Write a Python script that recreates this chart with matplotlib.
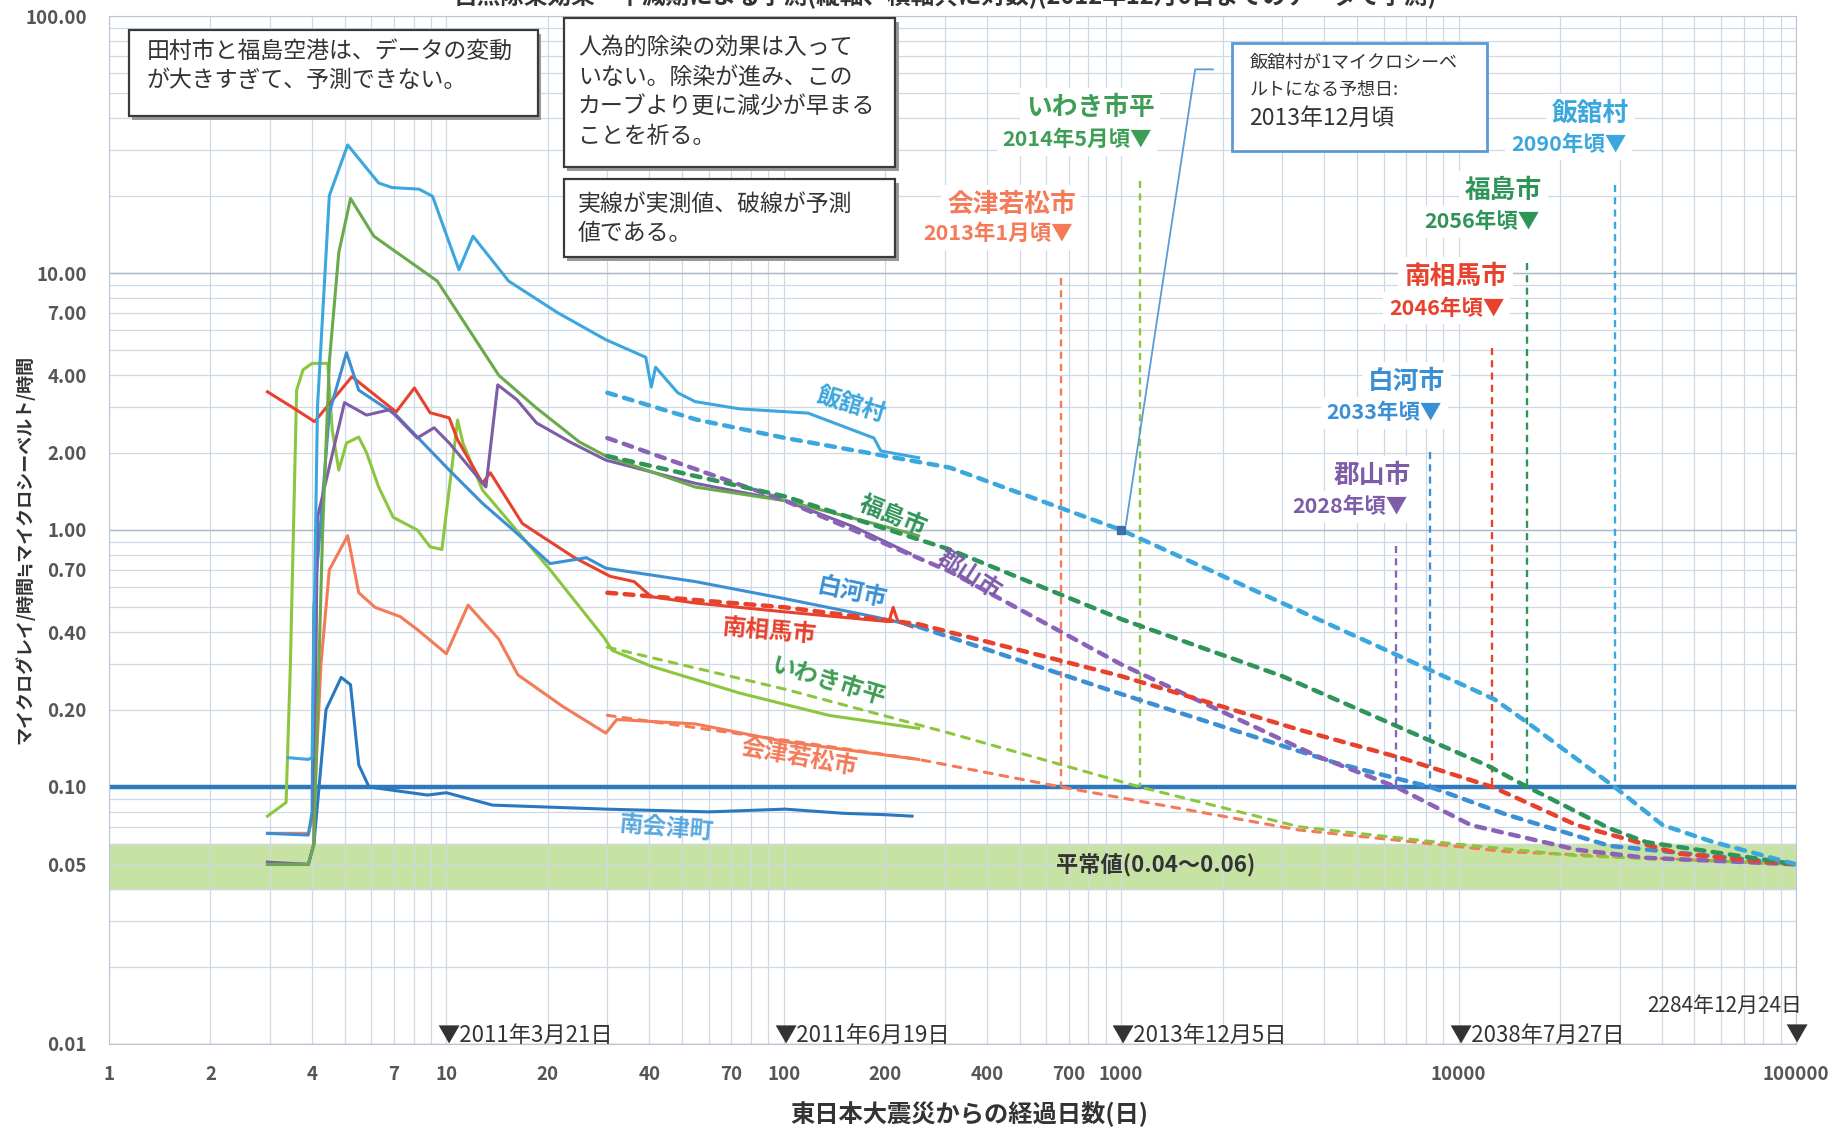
import matplotlib
matplotlib.use("Agg")
import matplotlib.pyplot as plt
from matplotlib.patches import Rectangle

plt.rcParams['font.family'] = ['Noto Sans CJK JP', 'DejaVu Sans']

# 実測値（震災からの経過日数, μSv/h）
iitate_d = [3.4, 3.9, 4.0, 4.15, 4.5, 5.1, 6.3, 6.9, 8.3, 9.1, 10.9, 12.0, 15.3, 21.4, 29.7,
            39, 40.5, 41.7, 48.5, 54.6, 74, 118, 185, 194, 251]
iitate_v = [0.13, 0.128, 0.13, 3.0, 20, 31.5, 22.4, 21.5, 21.2, 19.9, 10.3, 13.9, 9.3, 7.0, 5.5,
            4.7, 3.6, 4.3, 3.42, 3.16, 2.96, 2.85, 2.28, 2.03, 1.91]

fukushima_d = [2.95, 3.9, 4.05, 4.3, 4.5, 4.8, 5.2, 6.1, 9.4, 14.3, 18.4, 24.8, 29.7, 54.6, 101, 185, 251]
fukushima_v = [0.05, 0.05, 0.06, 1.0, 4.5, 12.0, 19.5, 13.9, 9.3, 4.0, 3.0, 2.2, 1.94, 1.47, 1.30, 1.06, 0.95]

koriyama_d = [2.95, 3.9, 4.05, 4.15, 4.99, 5.8, 6.8, 8.2, 9.2, 10.2, 13.1, 14.2, 16.2, 18.5, 23.4,
              29.7, 54.6, 101, 161, 237]
koriyama_v = [0.051, 0.05, 0.06, 1.12, 3.13, 2.8, 2.94, 2.28, 2.5, 2.18, 1.47, 3.67, 3.21, 2.61, 2.19,
              1.87, 1.52, 1.30, 1.03, 0.81]

shirakawa_d = [2.95, 3.9, 4.0, 4.05, 4.5, 5.06, 5.5, 7.1, 10.2, 12.8, 16.2, 20.3, 26, 29.7, 54.6, 101, 185, 251]
shirakawa_v = [0.066, 0.065, 0.08, 0.5, 2.86, 4.9, 3.5, 2.8, 1.71, 1.27, 0.97, 0.74, 0.78, 0.71, 0.63,
               0.54, 0.46, 0.42]

minamisoma_d = [2.95, 3.5, 4.07, 5.25, 7.1, 8.04, 8.95, 10.2, 10.8, 12.8, 13.5, 16.8, 19.3, 24, 30.6,
                36, 40.5, 54.6, 101, 205, 211, 218, 240]
minamisoma_v = [3.45, 3.0, 2.64, 3.95, 2.88, 3.57, 2.86, 2.73, 2.24, 1.52, 1.67, 1.06, 0.94, 0.78, 0.66,
                0.63, 0.55, 0.52, 0.48, 0.44, 0.5, 0.44, 0.42]

iwaki_d = [2.95, 3.35, 3.45, 3.6, 3.76, 4.0, 4.45, 4.59, 4.8, 5.06, 5.5, 5.8, 6.3, 6.96, 8.2, 8.95,
           9.7, 10.8, 11.2, 12.8, 20.3, 29.4, 31, 40.5, 74, 136, 251]
iwaki_v = [0.077, 0.087, 0.3, 3.5, 4.2, 4.45, 4.45, 2.45, 1.71, 2.18, 2.3, 2.0, 1.47, 1.12, 1.0, 0.86,
           0.84, 2.68, 2.18, 1.43, 0.70, 0.38, 0.34, 0.295, 0.232, 0.19, 0.169]

aizu_d = [2.95, 3.9, 4.05, 4.25, 4.5, 5.1, 5.5, 6.15, 7.3, 8.2, 10.0, 11.6, 14.3, 16.3, 22.1, 29.7,
          32, 54.6, 101, 185, 251]
aizu_v = [0.066, 0.066, 0.08, 0.3, 0.70, 0.95, 0.57, 0.50, 0.46, 0.41, 0.33, 0.51, 0.376, 0.273, 0.206,
          0.162, 0.183, 0.176, 0.15, 0.135, 0.128]

minamiaizu_d = [2.95, 3.9, 4.05, 4.4, 4.88, 5.2, 5.5, 5.9, 8.8, 10.0, 13.7, 29.7, 60, 101, 150, 200, 240]
minamiaizu_v = [0.05, 0.05, 0.06, 0.2, 0.267, 0.25, 0.122, 0.10, 0.093, 0.095, 0.085, 0.082, 0.08,
                0.082, 0.079, 0.078, 0.077]

# 予測値（破線）
iitate_pd = [30, 55, 101, 310, 1000, 3000, 10000, 12800, 16000, 29000, 40300, 57000, 100000]
iitate_pv = [3.42, 2.69, 2.28, 1.75, 1.0, 0.52, 0.254, 0.219, 0.178, 0.10, 0.071, 0.061, 0.05]

fukushima_pd = [30, 101, 310, 1000, 3000, 6530, 12200, 16000, 28000, 36000, 100000]
fukushima_pv = [1.94, 1.35, 0.84, 0.45, 0.27, 0.173, 0.121, 0.10, 0.069, 0.061, 0.05]

koriyama_pd = [30, 101, 310, 1000, 3800, 6530, 10900, 22400, 36000, 100000]
koriyama_pv = [2.28, 1.3, 0.69, 0.30, 0.132, 0.10, 0.071, 0.057, 0.053, 0.05]

shirakawa_pd = [251, 1000, 4330, 8250, 13900, 28000, 100000]
shirakawa_pv = [0.42, 0.23, 0.124, 0.10, 0.078, 0.059, 0.05]

minamisoma_pd = [30, 101, 251, 1000, 3370, 6850, 12600, 22400, 45000, 100000]
minamisoma_pv = [0.57, 0.5, 0.43, 0.27, 0.167, 0.129, 0.10, 0.071, 0.055, 0.05]

iwaki_pd = [30, 101, 310, 1137, 3370, 8630, 22400, 100000]
iwaki_pv = [0.35, 0.24, 0.162, 0.10, 0.07, 0.061, 0.054, 0.05]

aizu_pd = [30, 101, 251, 664, 3370, 13900, 100000]
aizu_pv = [0.19, 0.152, 0.128, 0.10, 0.068, 0.056, 0.05]

# 0.1μSv/hに達する日（日数, 縦線上端）
reach_names = ['会津若松市', 'いわき市平', '郡山市', '白河市', '南相馬市', '福島市', '飯舘村']
reach_dates = ['2013年1月頃▼', '2014年5月頃▼', '2028年頃▼', '2033年頃▼', '2046年頃▼', '2056年頃▼', '2090年頃▼']
reach_days = [664, 1137, 6530, 8250, 12600, 16000, 29000]
reach_top = [9.6, 22.8, 0.87, 2.02, 5.1, 10.9, 22.0]
reach_name_y = [18.5, 44, 1.63, 3.8, 9.7, 21, 42]
reach_date_y = [14.2, 33, 1.23, 2.86, 7.3, 15.8, 31.7]

# 横軸下の日付
mark_days = [10, 100, 1000, 10000]
mark_labels = ['2011年3月21日', '2011年6月19日', '2013年12月5日', '2038年7月27日']

yticks = [0.01, 0.05, 0.1, 0.2, 0.4, 0.7, 1, 2, 4, 7, 10, 100]
xticks = [1, 2, 4, 7, 10, 20, 40, 70, 100, 200, 400, 700, 1000, 10000, 100000]

c_iitate = '#3ba7de'
c_fuku = '#6aaa4c'
c_fuku_d = '#2f9458'
c_kori = '#7d5ca8'
c_shira = '#3b8fd4'
c_soma = '#e8412c'
c_iwaki = '#8cc63f'
c_iwaki_t = '#3e9e55'
c_aizu = '#f47a58'
c_maizu = '#2a78c0'

fig = plt.figure(figsize=(18.43, 11.28), dpi=100)
ax = fig.add_axes([0.0591, 0.0745, 0.9154, 0.9113])
ax.set_xscale('log')
ax.set_yscale('log')
ax.set_xlim(1, 100000)
ax.set_ylim(0.01, 100)

ax.set_axisbelow(True)
ax.grid(which='both', color='#cfd9e5', lw=0.9)
for yv in [0.01, 0.1, 1, 10]:
    ax.axhline(yv, color='#aab8c8', lw=1.0, zorder=0.6)
for sp in ax.spines.values():
    sp.set_color('#b8c6d6')

# 平常値の帯と0.1μSv/hの線
ax.axhspan(0.04, 0.06, color='#c7e3a3', zorder=0.3)
ax.axhline(0.1, color='#2e78bd', lw=3.2, zorder=2)
ax.text(640, 0.05, '平常値(0.04～0.06)', fontsize=16, fontweight='bold', color='#333333',
        va='center', ha='left', zorder=3)

# 実測値
solid = dict(lw=2.2, zorder=4, solid_joinstyle='round')
ax.plot(minamiaizu_d, minamiaizu_v, color=c_maizu, **solid)
ax.plot(aizu_d, aizu_v, color=c_aizu, **solid)
ax.plot(iwaki_d, iwaki_v, color=c_iwaki, **solid)
ax.plot(minamisoma_d, minamisoma_v, color=c_soma, **solid)
ax.plot(shirakawa_d, shirakawa_v, color=c_shira, **solid)
ax.plot(koriyama_d, koriyama_v, color=c_kori, **solid)
ax.plot(fukushima_d, fukushima_v, color=c_fuku, **solid)
ax.plot(iitate_d, iitate_v, color=c_iitate, **solid)

# 予測値
pred = dict(lw=3.2, dashes=(2.0, 1.9), dash_capstyle='round', zorder=5)
pred_thin = dict(lw=2.2, dashes=(2.6, 2.6), dash_capstyle='round', zorder=5)
ax.plot(aizu_pd, aizu_pv, color=c_aizu, **pred_thin)
ax.plot(iwaki_pd, iwaki_pv, color=c_iwaki, **pred_thin)
ax.plot(shirakawa_pd, shirakawa_pv, color=c_shira, **pred)
ax.plot(koriyama_pd, koriyama_pv, color='#8a63b8', **pred)
ax.plot(minamisoma_pd, minamisoma_pv, color=c_soma, **pred)
ax.plot(fukushima_pd, fukushima_pv, color=c_fuku_d, **pred)
ax.plot(iitate_pd, iitate_pv, color=c_iitate, **pred)

# 0.1に達する日の縦線と注記
reach_colors = [c_aizu, c_iwaki, '#8a63b8', c_shira, c_soma, c_fuku_d, c_iitate]
reach_text_colors = [c_aizu, c_iwaki_t, c_kori, c_shira, c_soma, c_fuku_d, c_iitate]
shift = 10 ** (10 / 287)
for name, date, day, top, ny, dy, lc, tc in zip(reach_names, reach_dates, reach_days, reach_top,
                                               reach_name_y, reach_date_y, reach_colors, reach_text_colors):
    ax.plot([day, day], [top, 0.1], color=lc, lw=1.7, dashes=(3, 2.2), zorder=3)
    box = dict(fc='white', ec='none', pad=4)
    ax.text(day * shift * 1.02, ny, name, color=tc, fontsize=18.5, fontweight='bold', ha='right',
            va='center', bbox=box, zorder=6)
    ax.text(day * shift, dy, date, color=tc, fontsize=15.5, fontweight='bold', ha='right',
            va='center', bbox=box, zorder=6)

# 系列名
label_kw = dict(fontsize=17, fontweight='bold', ha='center', va='center', zorder=6)
ax.text(159, 3.08, '飯舘村', color=c_iitate, rotation=-17, **label_kw)
ax.text(211, 1.13, '福島市', color=c_fuku_d, rotation=-22, **label_kw)
ax.text(355, 0.667, '郡山市', color=c_kori, rotation=-33, **label_kw)
ax.text(159, 0.569, '白河市', color=c_shira, rotation=-12, **label_kw)
ax.text(91, 0.406, '南相馬市', color=c_soma, rotation=-5, **label_kw)
ax.text(136, 0.258, 'いわき市平', color=c_iwaki_t, rotation=-17, **label_kw)
ax.text(111, 0.13, '会津若松市', color=c_aizu, rotation=-10, **label_kw)
ax.text(45, 0.069, '南会津町', color='#5aa8e0', rotation=-5, **label_kw)

# 飯舘村が1μSv/hになる日の吹き出し
ax.plot([1870, 1657, 1033], [62, 62, 1.05], color='#5b9bd5', lw=1.3, zorder=6)
ax.plot([1000], [1.0], marker='s', ms=6, color='#3a6fa8', zorder=7)
ax.add_patch(Rectangle((0.6655, 0.8683), 0.1512, 0.1054, transform=ax.transAxes,
                       fc='white', ec='#5b9bd5', lw=2.0, zorder=7))
ax.text(0.676, 0.954, '飯舘村が1マイクロシーベ', transform=ax.transAxes, fontsize=13,
        color='#333333', va='center', zorder=8)
ax.text(0.676, 0.928, 'ルトになる予想日:', transform=ax.transAxes, fontsize=13,
        color='#333333', va='center', zorder=8)
ax.text(0.676, 0.900, '2013年12月頃', transform=ax.transAxes, fontsize=16.5,
        color='#333333', va='center', zorder=8)

# 説明の枠
notes = [
    ((0.0118, 0.9026, 0.2426, 0.0837), (0.0223, 0.977),
     '田村市と福島空港は、データの変動\nが大きすぎて、予測できない。'),
    ((0.2697, 0.8534, 0.1965, 0.1443), (0.278, 0.9805),
     '人為的除染の効果は入って\nいない。除染が進み、この\nカーブより更に減少が早まる\nことを祈る。'),
    ((0.2697, 0.7652, 0.1965, 0.0767), (0.278, 0.828),
     '実線が実測値、破線が予測\n値である。'),
]
for (x0, y0, w, h), (tx, ty), txt in notes:
    ax.add_patch(Rectangle((x0 + 0.002, y0 - 0.004), w, h, transform=ax.transAxes,
                           fc='#9a9a9a', ec='none', zorder=7))
    ax.add_patch(Rectangle((x0, y0), w, h, transform=ax.transAxes,
                           fc='white', ec='#3a3a3a', lw=1.6, zorder=7))
    ax.text(tx, ty, txt, transform=ax.transAxes, fontsize=16.5, color='#333333',
            va='top', ha='left', linespacing=1.36, zorder=8)

# 横軸下の日付
for day, lab in zip(mark_days, mark_labels):
    ax.text(day / 10 ** (8 / 287), 0.0108, '▼' + lab, fontsize=16, color='#333333',
            ha='left', va='center', zorder=6)
ax.text(100000, 0.0108, '▼', fontsize=16, color='#333333', ha='center', va='center', zorder=6)
ax.text(61300, 0.0141, '2284年12月24日', fontsize=15, color='#333333',
        ha='center', va='center', zorder=6)

# 目盛
ax.set_yticks(yticks)
ax.set_yticklabels(['%.2f' % v for v in yticks])
ax.set_xticks(xticks)
ax.set_xticklabels([str(v) for v in xticks])
ax.tick_params(which='both', length=0)
ax.tick_params(axis='y', pad=16, labelsize=13.5, labelcolor='#555555')
ax.tick_params(axis='x', pad=15, labelsize=13.5, labelcolor='#555555')
for lab in ax.get_xticklabels() + ax.get_yticklabels():
    lab.set_fontweight('bold')

fig.text(0.013, 0.513, 'マイクログレイ/時間≒マイクロシーベルト/時間', rotation=90, fontsize=13,
         fontweight='bold', color='#333333', ha='center', va='center')
fig.text(0.526, 0.0133, '東日本大震災からの経過日数(日)', fontsize=17.5, fontweight='bold',
         color='#333333', ha='center', va='center')
fig.text(0.513, 1 - 9 / 1128, '自然除染効果・半減期による予測(縦軸、横軸共に対数)(2012年12月6日までのデータで予測)',
         fontsize=17, fontweight='bold', color='#333333', ha='center', va='bottom')

fig.savefig('out.png', dpi=100, facecolor='white')
